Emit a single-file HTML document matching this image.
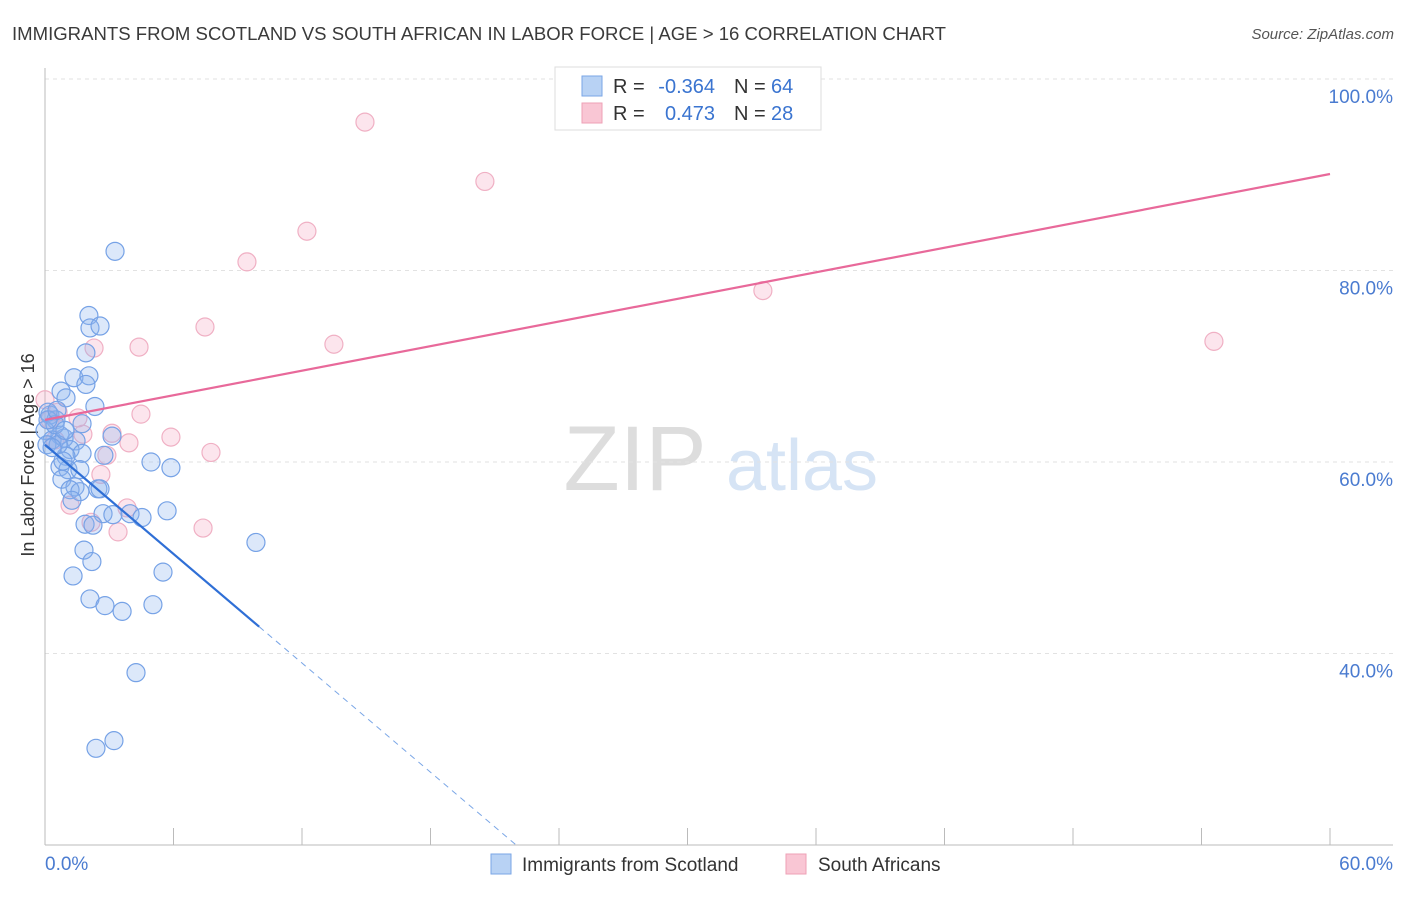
<!DOCTYPE html>
<html><head><meta charset="utf-8"><style>
body{margin:0;background:#fff;font-family:"Liberation Sans",sans-serif;}
svg text{font-family:"Liberation Sans",sans-serif;}
</style></head><body>
<svg id="c" width="1406" height="892" xmlns="http://www.w3.org/2000/svg">
<text x="12" y="40" font-size="18" fill="#3a3a3a" textLength="934" lengthAdjust="spacingAndGlyphs">IMMIGRANTS FROM SCOTLAND VS SOUTH AFRICAN IN LABOR FORCE | AGE &gt; 16 CORRELATION CHART</text>
<text x="1394" y="39" font-size="15" fill="#555" font-style="italic" text-anchor="end">Source: ZipAtlas.com</text>
<text x="34" y="455" font-size="18" fill="#333" text-anchor="middle" transform="rotate(-90 34 455)">In Labor Force | Age &gt; 16</text>
<g>
<text x="635" y="490" font-size="92" fill="#ddd" font-family="Liberation Serif" text-anchor="middle">ZIP</text>
<text x="802" y="490" font-size="72" fill="#d6e4f5" text-anchor="middle">atlas</text>
</g>
<g id="grid"></g><g id="axes"></g><g id="pts"></g><g id="lines"></g>
<g>
<rect x="555" y="67" width="266" height="63" fill="#fff" stroke="#ddd"/>
<rect x="582" y="76" width="20" height="20" fill="#b8d2f4" stroke="#7aa6e6"/>
<rect x="582" y="103" width="20" height="20" fill="#f9c6d4" stroke="#eea0b6"/>
<text x="613" y="93" font-size="20" fill="#333">R =</text>
<text x="715" y="93" font-size="20" fill="#3a74d0" text-anchor="end">-0.364</text>
<text x="734" y="93" font-size="20" fill="#333">N =</text>
<text x="771" y="93" font-size="20" fill="#3a74d0">64</text>
<text x="613" y="120" font-size="20" fill="#333">R =</text>
<text x="715" y="120" font-size="20" fill="#3a74d0" text-anchor="end">0.473</text>
<text x="734" y="120" font-size="20" fill="#333">N =</text>
<text x="771" y="120" font-size="20" fill="#3a74d0">28</text>
</g>
<g>
<rect x="491" y="854" width="20" height="20" fill="#b8d2f4" stroke="#7aa6e6"/>
<text x="522" y="871" font-size="19" fill="#333">Immigrants from Scotland</text>
<rect x="786" y="854" width="20" height="20" fill="#f9c6d4" stroke="#eea0b6"/>
<text x="818" y="871" font-size="19" fill="#333">South Africans</text>
</g>
</svg>
<script>
const blueX=[3.27,2.05,2.10,2.57,1.91,1.35,2.05,1.91,0.75,0.98,2.33,0.23,0.51,1.73,0,0.70,0.33,1.45,0.89,1.17,1.73,0.98,2.75,3.13,0.70,1.07,4.95,5.88,0.79,1.40,1.17,2.47,2.57,1.63,1.26,5.70,2.71,3.17,3.97,4.53,1.87,2.24,9.85,1.82,2.19,1.31,5.51,2.10,2.80,3.60,5.04,4.25,3.22,2.38,0.14,0.47,0.09,0.61,0.84,0.33,0.14,0.56,1.63,0.93];
const blueY=[82.0,75.3,74.0,74.2,71.4,68.8,69.0,68.1,67.4,66.7,65.8,64.9,64.4,64.0,63.3,62.8,62.3,62.2,62.5,61.3,60.9,60.6,60.7,62.7,59.5,59.2,60.0,59.4,58.2,57.4,57.1,57.2,57.2,56.9,56.0,54.9,54.6,54.5,54.6,54.2,53.5,53.4,51.6,50.8,49.6,48.1,48.5,45.7,45.0,44.4,45.1,38.0,30.9,30.1,65.2,63.9,61.8,61.8,60.1,61.5,64.4,65.4,59.2,63.3];
const pinkX=[14.94,20.54,12.23,9.43,33.52,7.47,54.58,13.49,4.39,2.29,4.48,0.23,0.61,1.54,1.77,3.13,3.92,5.88,7.75,2.89,2.61,1.17,3.83,2.15,3.41,7.38,0,0.47];
const pinkY=[95.5,89.3,84.1,80.9,77.9,74.1,72.6,72.3,72.0,71.9,65.0,64.4,65.2,64.6,62.9,63.0,62.0,62.6,61.0,60.7,58.7,55.5,55.2,53.7,52.7,53.1,66.5,62.3];
const blueTrend=[61.8,-1.9]; // intercept, slope
const pinkTrend=[64.4,0.428];
const yTicks=[100,80,60,40];
const yTickLabels=["100.0%","80.0%","60.0%","40.0%"];
const xTicks=[0,6,12,18,24,30,36,42,48,54,60];
const NS="http://www.w3.org/2000/svg";
const sx=v=>45+v/60*1285, sy=v=>79+(100-v)/20*191.5;
function mk(t,a,p){const e=document.createElementNS(NS,t);for(const k in a)e.setAttribute(k,a[k]);p.appendChild(e);return e;}
const grid=document.getElementById('grid'),axes=document.getElementById('axes'),pts=document.getElementById('pts'),lines=document.getElementById('lines');
yTicks.forEach((v,i)=>{
 const g=mk('line',{x1:45,x2:1393,y1:sy(v),y2:sy(v),stroke:'#e2e2e2','stroke-dasharray':'4,4'},grid);
 
 
 const t=mk('text',{x:1393,y:sy(v)+24,'font-size':19,fill:'#4a7bd0','text-anchor':'end'},grid);t.textContent=yTickLabels[i];
 
 
});
let a=mk('line',{x1:45,x2:45,y1:68,y2:845,stroke:'#bbb'},axes);


a=mk('line',{x1:45,x2:1393,y1:845,y2:845,stroke:'#bbb'},axes);


xTicks.forEach(v=>{const l=mk('line',{x1:sx(v),x2:sx(v),y1:828,y2:845,stroke:'#bbb'},axes);
 
 });
let t=mk('text',{x:45,y:870,'font-size':19,fill:'#4a7bd0'},axes);t.textContent='0.0%';


t=mk('text',{x:1393,y:870,'font-size':19,fill:'#4a7bd0','text-anchor':'end'},axes);t.textContent='60.0%';


pinkX.forEach((x,i)=>{const c=mk('circle',{cx:sx(x),cy:sy(pinkY[i]),r:9,fill:'rgba(246,170,195,0.3)',stroke:'#f0b0c4','stroke-width':1.2},pts);
 
 });
blueX.forEach((x,i)=>{const c=mk('circle',{cx:sx(x),cy:sy(blueY[i]),r:9,fill:'rgba(140,180,240,0.3)',stroke:'#76a2e6','stroke-width':1.2},pts);
 
 });
let l=mk('line',{x1:sx(0),y1:sy(pinkTrend[0]),x2:sx(60),y2:sy(pinkTrend[0]+pinkTrend[1]*60),stroke:'#e8699a','stroke-width':2.2},lines);


l=mk('line',{x1:sx(0),y1:sy(blueTrend[0]),x2:sx(10),y2:sy(blueTrend[0]+blueTrend[1]*10),stroke:'#2f6fd6','stroke-width':2.2},lines);


const xe=(20-blueTrend[0])/blueTrend[1];
l=mk('line',{x1:sx(10),y1:sy(blueTrend[0]+blueTrend[1]*10),x2:sx(xe),y2:sy(20),stroke:'#7aa6e6','stroke-width':1,'stroke-dasharray':'6,5'},lines);


</script>
</body></html>
